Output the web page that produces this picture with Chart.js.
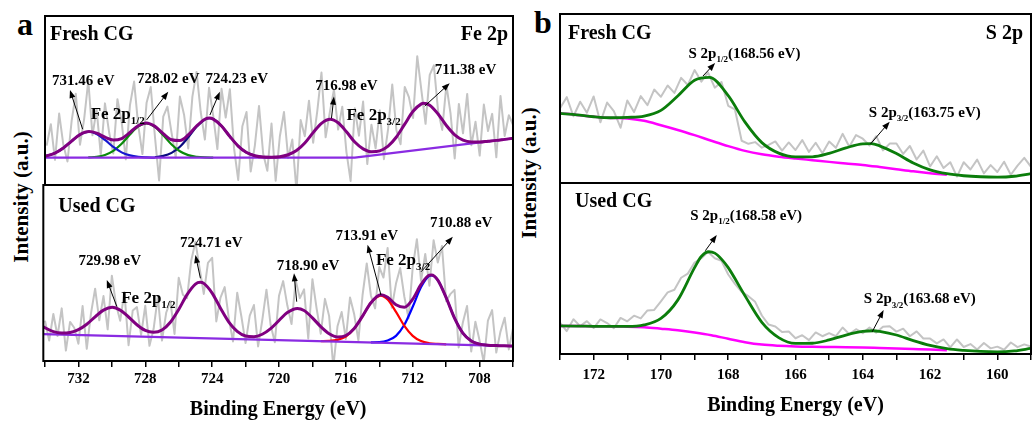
<!DOCTYPE html>
<html lang="en">
<head>
<meta charset="UTF-8">
<title>Fe 2p and S 2p XPS spectra</title>
<script src="https://cdn.jsdelivr.net/npm/chart.js"></script>
<style>
    body { margin: 0; background: #fff; font-family: "Liberation Serif", "Times New Roman", serif; }
    #figure { position: relative; width: 1032px; height: 423px; overflow: hidden; background: #fff; }
    #figure canvas { position: absolute; }
    .letter { position: absolute; font-weight: bold; font-size: 32px; line-height: 1; color: #000; }
    .ylabel { position: absolute; font-weight: bold; font-size: 21px; white-space: nowrap; color: #000;
              transform: translate(-50%, -50%) rotate(-90deg); }
</style>
</head>
<body>
<div id="figure">
    <div class="letter" style="left:17px;top:8px">a</div>
    <div class="letter" style="left:534px;top:6px">b</div>
    <div class="ylabel" style="left:21px;top:197px">Intensity (a.u.)</div>
    <div class="ylabel" style="left:529px;top:173px">Intensity (a.u.)</div>
    <canvas id="feFresh" width="472" height="173" style="left:43px;top:14px"></canvas>
    <canvas id="feUsed" width="474" height="240" style="left:42px;top:183px"></canvas>
    <canvas id="sFresh" width="474" height="173" style="left:558px;top:12px"></canvas>
    <canvas id="sUsed" width="483" height="242" style="left:554px;top:181px"></canvas>
</div>

<script>
    // ---- Fe 2p: raw spectra (binding energy in eV, intensity in a.u.) ----
    const feEnergy = [734, 733.75, 733.5, 733.25, 733, 732.75, 732.5, 732.25, 732, 731.75,
        731.5, 731.25, 731, 730.75, 730.5, 730.25, 730, 729.75, 729.5, 729.25,
        729, 728.75, 728.5, 728.25, 728, 727.75, 727.5, 727.25, 727, 726.75,
        726.5, 726.25, 726, 725.75, 725.5, 725.25, 725, 724.75, 724.5, 724.25,
        724, 723.75, 723.5, 723.25, 723, 722.75, 722.5, 722.25, 722, 721.75,
        721.5, 721.25, 721, 720.75, 720.5, 720.25, 720, 719.75, 719.5, 719.25,
        719, 718.75, 718.5, 718.25, 718, 717.75, 717.5, 717.25, 717, 716.75,
        716.5, 716.25, 716, 715.75, 715.5, 715.25, 715, 714.75, 714.5, 714.25,
        714, 713.75, 713.5, 713.25, 713, 712.75, 712.5, 712.25, 712, 711.75,
        711.5, 711.25, 711, 710.75, 710.5, 710.25, 710, 709.75, 709.5, 709.25,
        709, 708.75, 708.5, 708.25, 708, 707.75, 707.5, 707.25, 707, 706.75,
        706.5, 706.25, 706];
    const feFreshRaw = [23.3, 36.0, 14.9, 42.3, 23.9, 13.9, 38.0, 54.0, 23.8, 39.0,
        61.6, 29.4, 44.7, 17.6, 48.3, 31.2, 18.6, 50.8, 37.5, 15.2,
        47.1, 61.2, 35.1, 18.3, 48.7, 58.0, 28.7, 2.7, 40.4, 46.4,
        30.8, 16.2, 52.3, 41.6, 21.6, 52.3, 66.9, 43.2, 26.9, 57.5,
        41.0, 21.3, 56.9, 39.9, 56.7, 21.8, 3.0, 34.8, 43.2, 8.0,
        23.3, 46.8, 18.5, 8.4, 36.4, 2.5, 28.7, 43.2, 15.9, 26.9,
        -3.6, 38.5, 28.9, 49.9, 25.0, 43.9, 66.5, 28.2, 42.9, 56.4,
        32.8, 46.3, 19.5, 2.4, 45.4, 29.2, 49.4, 12.4, 35.7, 21.7,
        44.2, 15.3, 33.0, 59.4, 32.4, 24.1, 58.0, 52.0, 39.6, 76.2,
        56.0, 36.2, 65.2, 70.8, 44.0, 32.6, 59.2, 42.3, 15.7, 48.0,
        30.6, 53.9, 23.5, 37.4, 17.4, 47.6, 31.9, 42.1, 16.4, 52.7,
        29.0, 41.3, 35.6];
    const feUsedRaw = [22.9, 11.6, 26.7, 14.2, 29.9, 5.9, 22.2, 18.9, 9.8, 31.2,
        6.9, 26.9, 41.1, 23.1, 36.9, 18.0, 48.5, 32.1, 22.9, 39.1,
        9.0, 28.7, 30.6, 14.9, 31.4, 8.6, 18.3, 36.6, 11.6, 27.4,
        34.0, 15.4, 47.3, 37.6, 35.7, 57.1, 67.7, 52.7, 38.1, 55.8,
        58.6, 22.5, 36.0, 42.0, 24.1, 11.1, 38.8, 25.3, 10.2, 25.8,
        31.8, 8.3, 23.2, 40.5, 20.4, 10.6, 37.0, 45.4, 31.5, 21.0,
        45.8, 35.7, 40.7, 12.8, 46.5, 29.9, 15.5, 35.3, 25.5, -3.6,
        19.7, 27.8, 12.5, 36.1, 26.5, 11.7, 37.5, 55.4, 37.1, 29.9,
        53.4, 47.4, 64.2, 30.3, 44.0, 52.8, 36.5, 24.2, 53.1, 69.2,
        45.5, 60.8, 42.8, 68.6, 56.0, 65.3, 34.0, 38.0, 40.4, 7.7,
        21.9, 31.3, 5.4, 22.3, 11.6, -0.8, 23.0, 28.9, 4.8, 16.7,
        24.6, 6.6, 18.5];

    // ---- Fe 2p fits, [eV, intensity] ----
    const feFreshEnvelope = [[734.1, 17.1], [734, 17.3], [733.5, 18.9], [733, 21.9], [732.5, 26.0], [732, 29.8],
        [731.46, 31.6], [731, 30.7], [730.5, 28.3], [730, 26.6], [729.5, 27.5], [729, 31.1], [728.5, 35.1],
        [728.02, 36.7], [727.5, 34.7], [727, 30.4], [726.5, 26.8], [726, 26.3], [725.5, 29.6], [725, 34.9],
        [724.5, 38.9], [724.23, 39.6], [724, 39.0], [723.5, 34.9], [723, 28.7], [722.5, 23.0], [722, 19.2],
        [721.5, 17.3], [721, 16.5], [720.5, 16.4], [720, 16.7], [719.5, 17.9], [719, 20.4], [718.5, 24.9],
        [718, 31.0], [717.5, 36.5], [716.98, 38.9], [716.5, 36.8], [716, 31.5], [715.5, 25.4], [715, 21.4],
        [714.5, 19.7], [714, 20.2], [713.5, 23.0], [713, 28.4], [712.5, 36.0], [712, 43.6], [711.5, 48.0],
        [711.38, 48.3], [711, 47.2], [710.5, 42.0], [710, 35.2], [709.5, 29.7], [709, 26.6], [708.5, 25.5],
        [708, 25.4], [707.5, 25.9], [707, 26.4], [706.5, 27.0], [706, 27.6]];
    const feFreshPeak1 = [[734.1, 17.1], [734, 17.3], [733.5, 18.9], [733, 21.9], [732.5, 26.0], [732, 29.8],
        [731.46, 31.5], [731, 30.2], [730.5, 26.7], [730, 22.5], [729.5, 19.3], [729, 17.5], [728.5, 16.6],
        [728, 16.3], [727.5, 16.2]];
    const feFreshPeak2 = [[731.5, 16.3], [731, 16.7], [730.5, 17.8], [730, 20.2], [729.5, 24.4], [729, 29.9],
        [728.5, 34.7], [728.02, 36.5], [727.5, 34.4], [727, 29.4], [726.5, 24.0], [726, 20.0], [725.5, 17.7],
        [725, 16.7], [724.5, 16.3], [724, 16.2]];
    const feFreshPeak3 = [[727.5, 16.5], [727, 17.2], [726.5, 19.0], [726, 22.6], [725.5, 28.2], [725, 34.4],
        [724.5, 38.8], [724.23, 39.5], [724, 39.0], [723.5, 34.9], [723, 28.7], [722.5, 23.0], [722, 19.2],
        [721.5, 17.3], [721, 16.5], [720.5, 16.3]];
    const feFreshBackground = [[734.1, 16.2], [715.5, 16.2], [706, 27.6]];

    const feUsedEnvelope = [[734.1, 19.5], [734, 18.9], [733.5, 16.7], [733, 15.9], [732.5, 16.2], [732, 17.8],
        [731.5, 20.9], [731, 25.1], [730.5, 28.9], [729.98, 30.5], [729.5, 28.9], [729, 25.0], [728.5, 20.6],
        [728, 17.4], [727.5, 16.3], [727, 17.6], [726.5, 22.0], [726, 29.3], [725.5, 37.7], [725, 43.7],
        [724.71, 44.7], [724.5, 44.1], [724, 38.6], [723.5, 30.0], [723, 22.1], [722.5, 16.8], [722, 14.2],
        [721.5, 13.8], [721, 15.2], [720.5, 18.4], [720, 23.0], [719.5, 27.5], [718.9, 29.9], [718.5, 28.7],
        [718, 24.5], [717.5, 19.5], [717, 15.5], [716.5, 13.7], [716, 14.5], [715.5, 18.5], [715, 25.5],
        [714.5, 33.1], [713.91, 37.6], [713.5, 36.2], [713, 32.0], [712.5, 30.5], [712, 35.1], [711.5, 43.5],
        [711, 48.8], [710.88, 48.9], [710.5, 46.0], [710, 36.0], [709.5, 24.4], [709, 15.9], [708.5, 11.4],
        [708, 9.6], [707.5, 9.0], [707, 8.8], [706.5, 8.6], [706, 8.5]];
    const feUsedPeak4 = [[717.5, 11.3], [717, 11.4], [716.5, 12.0], [716, 13.9], [715.5, 18.4], [715, 25.5],
        [714.5, 33.1], [713.91, 37.2], [713.5, 34.9], [713, 27.9], [712.5, 20.0], [712, 14.3], [711.5, 11.3],
        [711, 10.1], [710.5, 9.7], [710, 9.5]];
    const feUsedPeak5 = [[714.5, 10.6], [714, 10.7], [713.5, 11.6], [713, 14.3], [712.5, 20.6], [712, 30.8],
        [711.5, 42.0], [711, 48.4], [710.88, 48.6], [710.5, 45.9], [710, 36.0], [709.5, 24.4], [709, 15.9],
        [708.5, 11.4], [708, 9.6], [707.5, 9.0], [707, 8.8]];
    const feUsedBackground = [[734.1, 15.3], [706, 8.5]];

    // ---- S 2p: raw spectra ----
    const sEnergy = [173, 172.8, 172.6, 172.4, 172.2, 172, 171.8, 171.6, 171.4, 171.2,
        171, 170.8, 170.6, 170.4, 170.2, 170, 169.8, 169.6, 169.4, 169.2,
        169, 168.8, 168.6, 168.4, 168.2, 168, 167.8, 167.6, 167.4, 167.2,
        167, 166.8, 166.6, 166.4, 166.2, 166, 165.8, 165.6, 165.4, 165.2,
        165, 164.8, 164.6, 164.4, 164.2, 164, 163.8, 163.6, 163.4, 163.2,
        163, 162.8, 162.6, 162.4, 162.2, 162, 161.8, 161.6, 161.4, 161.2,
        161, 160.8, 160.6, 160.4, 160.2, 160, 159.8, 159.6, 159.4, 159.2,
        159];
    const sFreshRaw = [44.2, 50.8, 39.5, 48.1, 41.6, 51.2, 35.9, 47.6, 42.6, 32.7,
        48.8, 42.0, 51.4, 46.1, 55.3, 51.0, 57.7, 53.3, 62.2, 58.0,
        66.8, 60.0, 65.5, 56.4, 59.8, 45.7, 43.5, 25.0, 23.2, 24.2,
        20.9, 22.6, 24.6, 19.2, 24.0, 19.5, 25.4, 18.4, 23.8, 17.6,
        24.5, 20.8, 29.1, 21.4, 28.4, 26.2, 22.2, 27.7, 19.3, 23.3,
        23.4, 17.2, 21.9, 13.9, 19.2, 9.8, 15.8, 8.9, 12.3, 3.8,
        12.3, 8.0, 13.8, 5.7, 10.6, 6.5, 12.6, 4.9, 10.3, 14.9,
        9.6];
    const sUsedRaw = [18.4, 13.4, 20.3, 16.3, 19.2, 15.2, 20.2, 18.1, 15.1, 21.1,
        19.1, 22.4, 20.8, 25.5, 25.8, 30.8, 36.0, 37.6, 44.6, 47.0,
        53.5, 56.0, 59.8, 56.0, 54.5, 46.5, 41.0, 36.3, 33.8, 30.5,
        22.5, 17.2, 16.1, 12.9, 13.2, 9.2, 11.0, 8.1, 12.6, 10.4,
        12.2, 10.4, 15.5, 11.6, 14.5, 12.2, 15.5, 12.5, 16.0, 16.2,
        13.1, 14.8, 10.4, 13.2, 9.1, 9.0, 6.2, 8.5, 3.9, 8.5,
        4.1, 5.8, 2.6, 6.4, 3.3, 4.3, 2.5, 6.7, 4.0, 5.6,
        4.3];

    // ---- S 2p fits ----
    const sFreshEnvelope = [[173, 41.2], [172.5, 40.3], [172, 39.2], [171.5, 38.6], [171, 38.8], [170.5, 39.6],
        [170, 43.0], [169.5, 51.5], [169, 60.8], [168.56, 62.5], [168, 51.7], [167.5, 36.0], [167, 23.9],
        [166.5, 17.7], [166, 15.5], [165.5, 15.5], [165, 17.5], [164.5, 20.8], [164, 23.2], [163.75, 23.3],
        [163.5, 22.0], [163, 17.4], [162.5, 11.9], [162, 7.8], [161.5, 5.5], [161, 4.3], [160.5, 3.7],
        [160, 3.5], [159.5, 4.0], [159, 5.6]];
    const sFreshBackground = [[173, 41.2], [172.5, 40.3], [172, 39.2], [171.5, 38.5], [171, 38.2], [170.5, 36.8],
        [170, 34.2], [169.5, 31.4], [169, 28.3], [168.5, 25.0], [168, 21.8], [167.5, 19.0], [167, 17.0],
        [166.5, 15.6], [166, 14.5], [165.5, 13.5], [165, 12.5], [164.5, 11.6], [164, 10.7], [163.5, 9.5],
        [163, 8.2], [162.5, 6.9], [162, 5.8], [161.5, 4.9]];
    const sUsedEnvelope = [[173, 16.4], [172.5, 16.3], [172, 16.2], [171.5, 16.1], [171, 16.1], [170.5, 17.0],
        [170, 20.8], [169.5, 31.5], [169, 50.5], [168.8, 57.0], [168.58, 59.8], [168.4, 59.0], [168.2, 55.5],
        [168, 50.5], [167.5, 34.0], [167, 18.5], [166.5, 9.6], [166, 6.2], [165.5, 6.3], [165, 8.2],
        [164.5, 11.1], [164, 13.2], [163.68, 13.6], [163.5, 13.2], [163, 11.1], [162.5, 7.8], [162, 5.0],
        [161.5, 3.1], [161, 2.1], [160.5, 1.5], [160, 1.3], [159.5, 1.8], [159, 3.3]];
    const sUsedBackground = [[173, 16.4], [172, 16.2], [171, 16.0], [170.5, 15.6], [170, 14.8], [169.5, 13.9],
        [169, 12.6], [168.5, 11.0], [168, 8.9], [167.5, 6.9], [167, 5.5], [166.5, 4.8], [166, 4.4],
        [165.5, 4.2], [165, 4.1], [164.5, 4.0], [164, 3.8], [163.5, 3.5], [163, 3.2], [162.5, 2.9],
        [162, 2.6], [161.5, 2.2]];

    const feTickLabels = [732, 728, 724, 720, 716, 712, 708];
    const sTickLabels = [172, 170, 168, 166, 164, 162, 160];

    // peak labels: text parts ('_' = subscript), anchor in eV / intensity
    const feFreshLabels = [
        { text: ['731.46 eV'], e: 731.8, v: 59.2, align: 'center' },
        { text: ['728.02 eV'], e: 726.7, v: 60.4, align: 'center' },
        { text: ['724.23 eV'], e: 722.58, v: 60.4, align: 'center' },
        { text: ['716.98 eV'], e: 716.0, v: 56.5, align: 'center' },
        { text: ['711.38 eV'], e: 708.85, v: 65.7, align: 'center' },
        { text: ['Fe 2p', '_1/2'], e: 731.36, v: 39.1, align: 'left', size: 17 },
        { text: ['Fe 2p', '_3/2'], e: 716.0, v: 38.5, align: 'left', size: 17 }
    ];
    const feFreshArrows = [[731.84, 33.0, 732.6, 56.2], [728.0, 38.5, 726.7, 55.2], [724.2, 41.4, 723.6, 55.2],
        [716.9, 39.5, 716.75, 52.3], [711.3, 46.7, 709.8, 60.2]];
    const feUsedLabels = [
        { text: ['729.98 eV'], e: 730.12, v: 54.5, align: 'center' },
        { text: ['724.71 eV'], e: 724.05, v: 64.5, align: 'center' },
        { text: ['718.90 eV'], e: 718.26, v: 51.9, align: 'center' },
        { text: ['713.91 eV'], e: 714.75, v: 68.75, align: 'center' },
        { text: ['710.88 eV'], e: 709.1, v: 76.3, align: 'center' },
        { text: ['Fe 2p', '_1/2'], e: 729.44, v: 33.0, align: 'left', size: 17 },
        { text: ['Fe 2p', '_3/2'], e: 714.2, v: 54.5, align: 'left', size: 17 }
    ];
    const feUsedArrows = [[729.7, 30.9, 730.3, 46.0], [724.7, 47.0, 725.0, 60.2], [718.94, 33.7, 719.1, 49.8],
        [713.9, 37.5, 714.7, 66.0], [711.5, 50.7, 709.6, 70.6]];
    const sFreshLabels = [
        { text: ['S 2p', '_1/2', '(168.56 eV)'], e: 169.18, v: 74.0, align: 'left' },
        { text: ['S 2p', '_3/2', '(163.75 eV)'], e: 163.82, v: 39.1, align: 'left' }
    ];
    const sFreshArrows = [[168.75, 63.3, 168.39, 71.0], [163.77, 23.1, 163.2, 36.3]];
    const sUsedLabels = [
        { text: ['S 2p', '_1/2', '(168.58 eV)'], e: 169.13, v: 78.4, align: 'left' },
        { text: ['S 2p', '_3/2', '(163.68 eV)'], e: 163.97, v: 29.8, align: 'left' }
    ];
    const sUsedArrows = [[168.68, 60.4, 168.34, 69.6], [163.72, 13.0, 163.38, 25.7]];

    const serif = '"Liberation Serif", "Times New Roman", serif';

    function drawArrow(ctx, x1, y1, x2, y2) {
        const a = Math.atan2(y2 - y1, x2 - x1);
        const c = Math.cos(a), s = Math.sin(a);
        ctx.beginPath();
        ctx.moveTo(x1, y1);
        ctx.lineTo(x2 - 5 * c, y2 - 5 * s);
        ctx.stroke();
        ctx.beginPath();
        ctx.moveTo(x2, y2);
        ctx.lineTo(x2 - 8 * c + 3 * s, y2 - 8 * s - 3 * c);
        ctx.lineTo(x2 - 8 * c - 3 * s, y2 - 8 * s + 3 * c);
        ctx.closePath();
        ctx.fill();
    }

    function drawRich(ctx, parts, x, y, size, align) {
        const subSize = Math.round(size * 0.62);
        const fontOf = p => `bold ${p[0] === '_' ? subSize : size}px ${serif}`;
        let total = 0;
        parts.forEach(p => { ctx.font = fontOf(p); total += ctx.measureText(p.replace(/^_/, '')).width; });
        let cx = align === 'center' ? x - total / 2 : x;
        ctx.textAlign = 'left';
        parts.forEach(p => {
            const sub = p[0] === '_';
            const t = p.replace(/^_/, '');
            ctx.font = fontOf(p);
            ctx.fillText(t, cx, sub ? y + size * 0.3 : y);
            cx += ctx.measureText(t).width;
        });
    }

    const decor = {
        id: 'decor',
        afterDatasetsDraw(chart, args, o) {
            const { ctx, chartArea: a } = chart;
            const x = chart.scales.x, y = chart.scales.y;
            ctx.save();
            ctx.strokeStyle = '#000';
            ctx.fillStyle = '#000';
            ctx.lineWidth = 2;
            ctx.strokeRect(a.left, a.top, a.right - a.left, a.bottom - a.top);

            ctx.font = `bold 20px ${serif}`;
            ctx.textBaseline = 'alphabetic';
            ctx.textAlign = 'left';
            ctx.fillText(o.sample, a.left + o.sampleAt[0], a.top + o.sampleAt[1]);
            if (o.region) {
                ctx.textAlign = 'right';
                ctx.fillText(o.region, a.right - o.sampleAt[0], a.top + o.sampleAt[1]);
            }

            ctx.lineWidth = 1;
            o.arrows.forEach(([e1, v1, e2, v2]) => drawArrow(ctx,
                x.getPixelForValue(e1), y.getPixelForValue(v1),
                x.getPixelForValue(e2), y.getPixelForValue(v2)));
            o.labels.forEach(l => drawRich(ctx, l.text, x.getPixelForValue(l.e), y.getPixelForValue(l.v),
                l.size || 15, l.align));
            ctx.restore();
        }
    };

    const pairs = list => list.map(([e, v]) => ({ x: e, y: v }));
    const raw = (energy, values) => energy.map((e, i) => ({ x: e, y: values[i] }));

    function fitLine(list, color, width) {
        return { data: pairs(list), borderColor: color, borderWidth: width, pointRadius: 0,
                 cubicInterpolationMode: 'monotone', fill: false };
    }
    function straightLine(list, color, width) {
        return { data: pairs(list), borderColor: color, borderWidth: width, pointRadius: 0, tension: 0, fill: false };
    }
    function rawLine(energy, values) {
        return { data: raw(energy, values), borderColor: '#c4c4c4', borderWidth: 2, pointRadius: 0,
                 tension: 0, fill: false, borderJoinStyle: 'round' };
    }

    function makePanel(id, cfg) {
        const axis = cfg.axis;
        return new Chart(document.getElementById(id), {
            type: 'line',
            data: { datasets: cfg.datasets },
            plugins: [decor],
            options: {
                responsive: false,
                animation: false,
                events: [],
                layout: { padding: cfg.padding },
                scales: {
                    x: {
                        type: 'linear', reverse: true, min: cfg.range[0], max: cfg.range[1],
                        display: !!axis,
                        ticks: {
                            stepSize: cfg.step, autoSkip: false, maxRotation: 0, includeBounds: false,
                            padding: axis ? axis.pad : 3, color: '#000',
                            font: { family: serif, size: 15, weight: 'bold' },
                            callback: v => (axis && axis.labels.includes(v) ? String(v) : '')
                        },
                        grid: { drawOnChartArea: false, drawTicks: true, tickLength: 6, color: '#000', lineWidth: 1.5 },
                        border: { display: false },
                        title: {
                            display: true, text: 'Binding Energy (eV)', color: '#000',
                            font: { family: serif, size: 20, weight: 'bold' },
                            padding: axis ? axis.titlePad : 0
                        }
                    },
                    y: { display: false, min: 0, max: 100 }
                },
                plugins: {
                    legend: { display: false },
                    tooltip: { enabled: false },
                    decor: cfg.decor
                }
            }
        });
    }

    const purple = '#800080', violet = '#8a2be2';

    // dataset order = drawing order from top to bottom
    makePanel('feFresh', {
        range: [706, 734.1], step: 2,
        padding: { left: 2, right: 2, top: 2, bottom: 2 },
        datasets: [
            fitLine(feFreshEnvelope, purple, 3),
            straightLine(feFreshBackground, violet, 2.2),
            fitLine(feFreshPeak1, '#1515d0', 2.2),
            fitLine(feFreshPeak2, '#0a8a0a', 2.2),
            fitLine(feFreshPeak3, '#0a0a80', 2.2),
            rawLine(feEnergy, feFreshRaw)
        ],
        decor: { sample: 'Fresh CG', region: 'Fe 2p', sampleAt: [5, 24], labels: feFreshLabels, arrows: feFreshArrows }
    });

    makePanel('feUsed', {
        range: [706, 734.1], step: 2,
        padding: { left: 0, right: 0, top: 2, bottom: 0 },
        axis: { labels: feTickLabels, pad: 3, titlePad: { top: 7, bottom: 1 } },
        datasets: [
            fitLine(feUsedEnvelope, purple, 3),
            straightLine(feUsedBackground, violet, 2.2),
            fitLine(feUsedPeak4, '#ff0000', 2.2),
            fitLine(feUsedPeak5, '#0000ff', 2.2),
            rawLine(feEnergy, feUsedRaw)
        ],
        decor: { sample: 'Used CG', sampleAt: [15, 27], labels: feUsedLabels, arrows: feUsedArrows }
    });

    makePanel('sFresh', {
        range: [159, 173], step: 1,
        padding: { left: 2, right: 1, top: 2, bottom: 2 },
        datasets: [
            fitLine(sFreshEnvelope, '#0b7d0b', 2.8),
            fitLine(sFreshBackground, '#ff00ff', 2.5),
            rawLine(sEnergy, sFreshRaw)
        ],
        decor: { sample: 'Fresh CG', region: 'S 2p', sampleAt: [8, 25], labels: sFreshLabels, arrows: sFreshArrows }
    });

    makePanel('sUsed', {
        range: [159, 173], step: 1,
        padding: { left: 0, right: 0, top: 2, bottom: 0 },
        axis: { labels: sTickLabels, pad: 6, titlePad: { top: 4, bottom: 5 } },
        datasets: [
            fitLine(sUsedEnvelope, '#0b7d0b', 2.8),
            fitLine(sUsedBackground, '#ff00ff', 2.5),
            rawLine(sEnergy, sUsedRaw)
        ],
        decor: { sample: 'Used CG', sampleAt: [15, 24], labels: sUsedLabels, arrows: sUsedArrows }
    });
</script>
</body>
</html>
